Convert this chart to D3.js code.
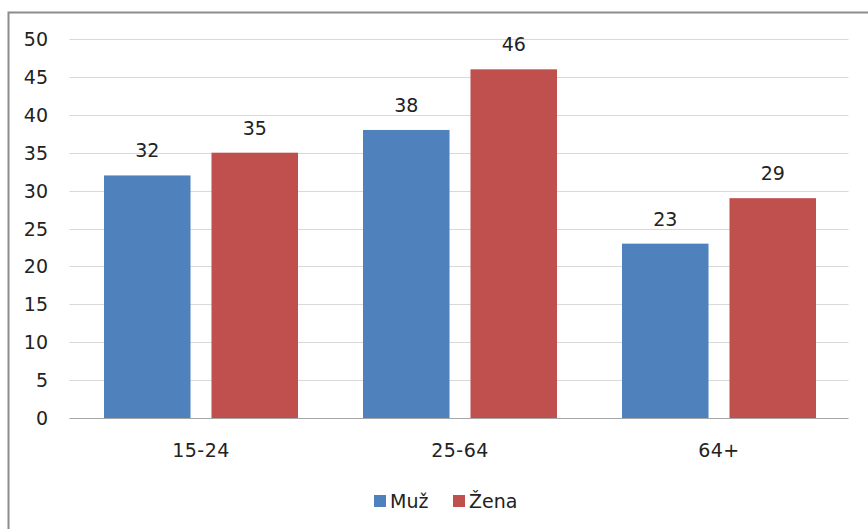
<!DOCTYPE html>
<meta charset="utf-8">
<style>
body { margin: 0; background: #fff; }
text { font-family: "DejaVu Sans", sans-serif; fill: #222; font-size: 19px; }
.grid line { stroke: #d9d9d9; stroke-width: 1px; }
</style>
<svg width="868" height="529"></svg>
<script src="https://d3js.org/d3.v7.min.js"></script>
<script>

var categories = ["15-24", "25-64", "64+"],
    series = ["Muž", "Žena"],
    muz = [32, 38, 23],
    zena = [35, 46, 29],
    yTicks = [0, 5, 10, 15, 20, 25, 30, 35, 40, 45, 50],
    colors = ["#4f81bd", "#c0504d"];

var values = [muz, zena];

var svg = d3.select("svg");

// outer chart frame (cut off at right and bottom)
svg.append("rect")
    .attr("x", 8.5).attr("y", 12.5)
    .attr("width", 900).attr("height", 600)
    .attr("fill", "none")
    .attr("stroke", "#8c8c8c")
    .attr("stroke-width", 2);

var plotLeft = 71.5, plotRight = 848.5, plotTop = 39, plotBottom = 418;

var x = d3.scaleBand().domain(categories).range([plotLeft, plotRight]);
var xs = d3.scaleBand().domain(series).range([32.5, 226.5]).paddingInner(0.195);
var y = d3.scaleLinear().domain([0, 50]).range([plotBottom, plotTop]);

// gridlines
svg.append("g").attr("class", "grid")
  .selectAll("line")
  .data(yTicks.slice(1))
  .enter().append("line")
    .attr("x1", plotLeft - 2).attr("x2", plotRight)
    .attr("y1", function(d) { return Math.round(y(d)) + 0.5; })
    .attr("y2", function(d) { return Math.round(y(d)) + 0.5; });

// y labels
svg.append("g").selectAll("text")
  .data(yTicks)
  .enter().append("text")
    .attr("x", 48)
    .attr("y", function(d) { return y(d) + 7; })
    .attr("text-anchor", "end")
    .text(function(d) { return d; });

// bars
series.forEach(function(s, i) {
  var g = svg.append("g");
  g.selectAll("rect")
    .data(values[i])
    .enter().append("rect")
      .attr("x", function(d, j) { return x(categories[j]) + xs(s); })
      .attr("y", function(d) { return y(d); })
      .attr("width", xs.bandwidth())
      .attr("height", function(d) { return y(0) - y(d); })
      .attr("fill", colors[i]);
  g.selectAll("text")
    .data(values[i])
    .enter().append("text")
      .attr("x", function(d, j) { return x(categories[j]) + xs(s) + xs.bandwidth() / 2; })
      .attr("y", function(d) { return y(d) - 18; })
      .attr("text-anchor", "middle")
      .text(function(d) { return d; });
});

// zero axis
svg.append("line")
    .attr("x1", plotLeft - 2).attr("x2", plotRight)
    .attr("y1", plotBottom + 0.5).attr("y2", plotBottom + 0.5)
    .attr("stroke", "#a6a6a6");

// x labels
svg.append("g").selectAll("text")
  .data(categories)
  .enter().append("text")
    .attr("x", function(d) { return x(d) + x.bandwidth() / 2; })
    .attr("y", 457)
    .attr("text-anchor", "middle")
    .style("letter-spacing", "0.5px")
    .text(function(d) { return d; });

// legend
var legend = svg.append("g").selectAll("g")
  .data(series)
  .enter().append("g")
    .attr("transform", function(d, i) { return "translate(" + (374 + i * 79) + ",495)"; });
legend.append("rect")
    .attr("width", 12).attr("height", 12)
    .attr("fill", function(d, i) { return colors[i]; });
legend.append("text")
    .attr("x", 16).attr("y", 13)
    .text(function(d) { return d; });

</script>
